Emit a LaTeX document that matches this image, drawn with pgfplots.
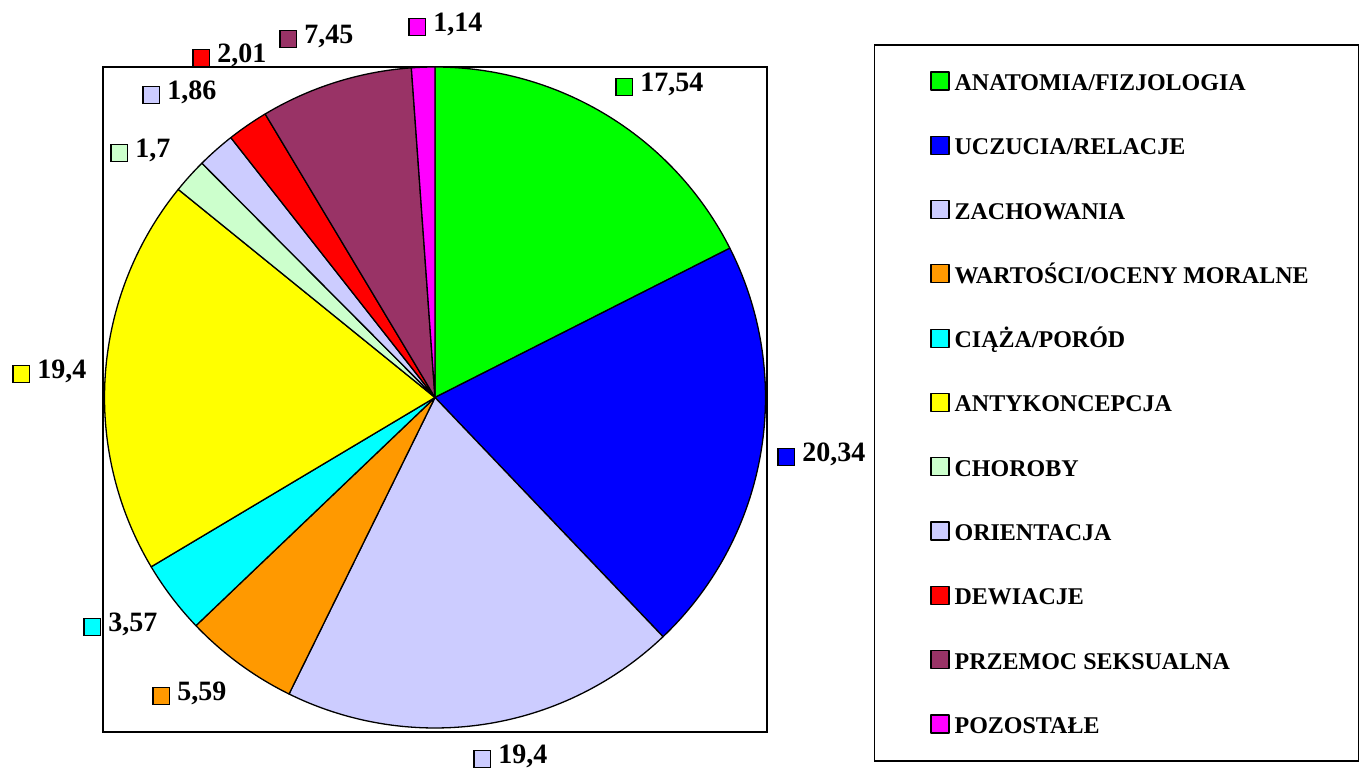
\documentclass[border=0pt]{standalone}
\usepackage{fontspec}
\setmainfont{Liberation Serif}
\usepackage{pgfplots}
\pgfplotsset{compat=1.18}
\definecolor{cGreen}{HTML}{00FF00}
\definecolor{cBlue}{HTML}{0000FF}
\definecolor{cLav}{HTML}{CCCCFF}
\definecolor{cOrange}{HTML}{FF9900}
\definecolor{cCyan}{HTML}{00FFFF}
\definecolor{cYellow}{HTML}{FFFF00}
\definecolor{cLGreen}{HTML}{CCFFCC}
\definecolor{cRed}{HTML}{FF0000}
\definecolor{cPurple}{HTML}{993366}
\definecolor{cMagenta}{HTML}{FF00FF}
\newcommand{\sq}[1]{\raisebox{-1.4pt}{\setlength\fboxsep{0pt}\setlength\fboxrule{0.6pt}\fcolorbox{black}{#1}{\rule{0pt}{7.8pt}\rule{7.8pt}{0pt}}}}
\newcommand{\lbl}[4]{\node[anchor=base west, inner sep=0pt, font=\fontsize{14}{16}\selectfont\bfseries] at (axis cs:#1,#2) {\sq{#3}\hspace{3.5pt}#4};}
\def\cum{0}
\newcommand{\slice}[3]{%
  \pgfmathsetmacro\angA{90-3.6*\cum}%
  \pgfmathsetmacro\tmp{\cum+#1}\xdef\cum{\tmp}%
  \pgfmathsetmacro\angB{90-3.6*\cum}%
  \edef\doslice{\noexpand\addplot[fill=#2, draw=black, line width=0.65pt, line join=round, domain=\angB:\angA, samples=90] ({435+330.5*cos(x)},{371.5+330.5*sin(x)}) -- (axis cs:435,371.5) -- cycle;}%
  \doslice
  \addlegendentry{#3}}
\begin{document}
\begin{tikzpicture}
\begin{axis}[x=0.5pt, y=0.5pt, xmin=0, xmax=1360, ymin=0, ymax=769,
  hide axis, clip=false, scale only axis,
  legend cell align=left,
  legend image code/.code={\draw[#1, draw=black, line width=0.6pt] (0pt,-3pt) rectangle (9pt,6pt);},
  legend style={at={(0.90767,0.90767)}, anchor=north west, draw=none, fill=none, inner sep=0pt,
    font=\fontsize{12}{14}\selectfont\bfseries, row sep=20.1pt, column sep=2.5pt,
    nodes={inner sep=0pt, text height=9pt, text depth=2.5pt}},
  legend style={at={(0.68382,0.90767)}}]
\path (axis cs:0,0) rectangle (axis cs:1360,769);
\draw[line width=1pt] (axis cs:103,37) rectangle (axis cs:767,702);
\draw[line width=0.9pt] (axis cs:874.5,8) rectangle (axis cs:1358.5,724);
\slice{17.54}{cGreen}{ANATOMIA/FIZJOLOGIA}
\slice{20.34}{cBlue}{UCZUCIA/RELACJE}
\slice{19.4}{cLav}{ZACHOWANIA}
\slice{5.59}{cOrange}{WARTOŚCI/OCENY MORALNE}
\slice{3.57}{cCyan}{CIĄŻA/PORÓD}
\slice{19.4}{cYellow}{ANTYKONCEPCJA}
\slice{1.7}{cLGreen}{CHOROBY}
\slice{1.86}{cLav}{ORIENTACJA}
\slice{2.01}{cRed}{DEWIACJE}
\slice{7.45}{cPurple}{PRZEMOC SEKSUALNA}
\slice{1.14}{cMagenta}{POZOSTAŁE}
\lbl{615}{677}{cGreen}{17,54}
\lbl{777}{307}{cBlue}{20,34}
\lbl{473}{5}{cLav}{19,4}
\lbl{152}{68}{cOrange}{5,59}
\lbl{83}{137}{cCyan}{3,57}
\lbl{12}{390}{cYellow}{19,4}
\lbl{110}{611}{cLGreen}{1,7}
\lbl{142}{669}{cLav}{1,86}
\lbl{192}{706}{cRed}{2,01}
\lbl{279}{725}{cPurple}{7,45}
\lbl{408}{737}{cMagenta}{1,14}
\end{axis}
\end{tikzpicture}
\end{document}
